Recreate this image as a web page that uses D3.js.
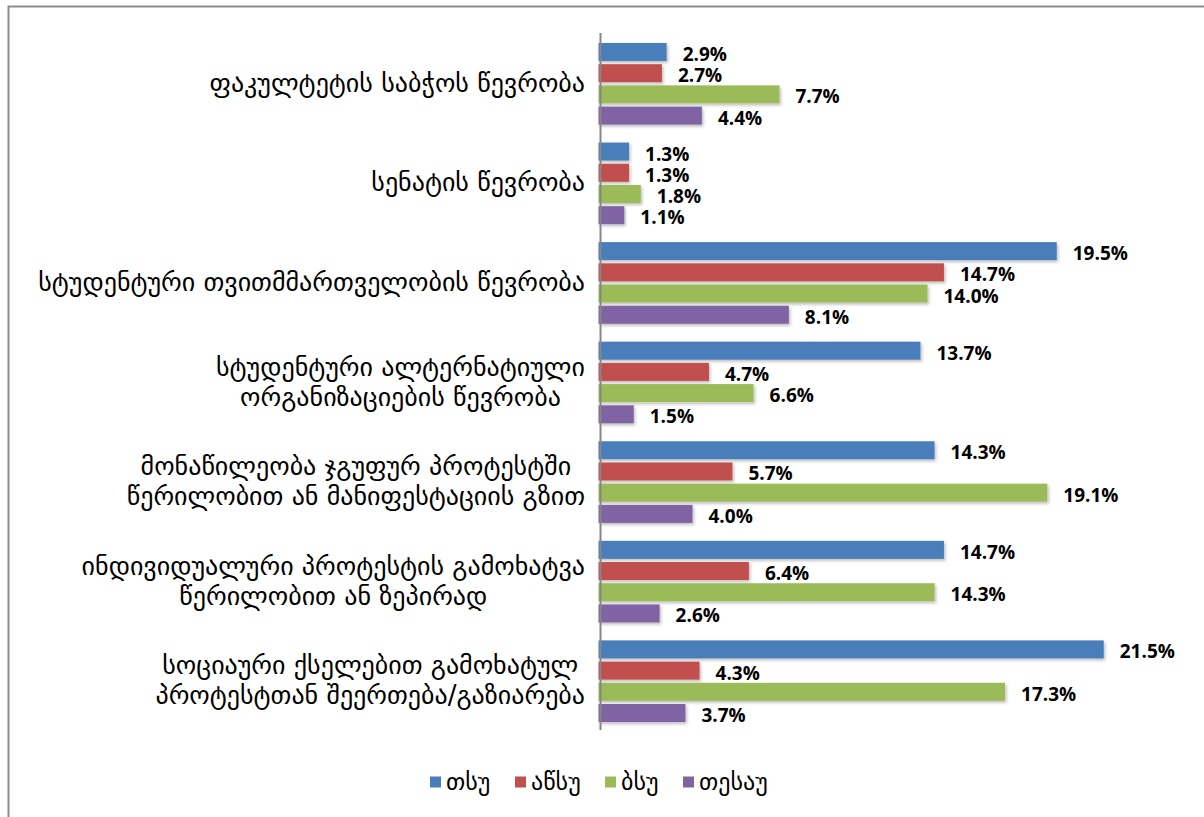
<!DOCTYPE html>
<html>
<head>
<meta charset="utf-8">
<script src="https://cdn.jsdelivr.net/npm/d3@7"></script>
<style>
  body { margin: 0; background: #fff; }
  svg { display: block; }
  .cat { font-family: "DejaVu Sans", sans-serif; font-size: 26px; fill: #000; }
  .val { font-family: "Open Sans", sans-serif; font-weight: bold; font-size: 19px; fill: #000; }
  .leg { font-family: "DejaVu Sans", sans-serif; font-size: 24px; fill: #000; }
</style>
</head>
<body>
<svg width="1204" height="817"></svg>
<script>
// categories (top to bottom), each as lines of text
var categories = [
  ["ფაკულტეტის საბჭოს წევრობა"],
  ["სენატის წევრობა"],
  ["სტუდენტური თვითმმართველობის წევრობა"],
  ["სტუდენტური ალტერნატიული", "ორგანიზაციების წევრობა"],
  ["მონაწილეობა ჯგუფურ პროტესტში", "წერილობით ან მანიფესტაციის გზით"],
  ["ინდივიდუალური პროტესტის გამოხატვა", "წერილობით ან ზეპირად"],
  ["სოციაური ქსელებით გამოხატულ", "პროტესტთან შეერთება/გაზიარება"]
];
var seriesNames = ["თსუ", "აწსუ", "ბსუ", "თესაუ"];
var tsu   = [2.9, 1.3, 19.5, 13.7, 14.3, 14.7, 21.5];
var atsu  = [2.7, 1.3, 14.7, 4.7, 5.7, 6.4, 4.3];
var bsu   = [7.7, 1.8, 14.0, 6.6, 19.1, 14.3, 17.3];
var tesau = [4.4, 1.1, 8.1, 1.5, 4.0, 2.6, 3.7];
var colors = ["#4A7EBB", "#C0504D", "#9BBB59", "#8064A2"];

var seriesValues = [tsu, atsu, bsu, tesau];

var svg = d3.select("svg");

var defs = svg.append("defs");
var f = defs.append("filter").attr("id", "shadow")
    .attr("x", "-5%").attr("y", "-30%").attr("width", "115%").attr("height", "180%");
f.append("feDropShadow").attr("dx", 1.5).attr("dy", 2).attr("stdDeviation", 1.5)
    .attr("flood-color", "#000").attr("flood-opacity", 0.25);

// outer frame (left and top edges only visible)
svg.append("path")
    .attr("d", "M8.5,817V6.5H1204")
    .attr("fill", "none").attr("stroke", "#8c8c8c").attr("stroke-width", 2);

var catIdx = d3.range(categories.length);

var y0 = d3.scaleBand()
    .domain(catIdx)
    .range([33, 730]);

var y1 = d3.scaleBand()
    .domain(d3.range(seriesNames.length))
    .range([y0.bandwidth() * 0.1, y0.bandwidth() * 0.92])
    .paddingInner(0.15);

var x = d3.scaleLinear()
    .domain([0, 22])
    .range([598.5, 598.5 + 23.5 * 22]);

var groups = svg.selectAll(".grp")
  .data(catIdx)
  .enter().append("g")
    .attr("class", "grp")
    .attr("transform", function(i) { return "translate(0," + y0(i) + ")"; });

groups.selectAll("rect")
  .data(function(i) { return seriesValues.map(function(s, k) { return {k: k, v: s[i]}; }); })
  .enter().append("rect")
    .attr("x", x(0))
    .attr("y", function(d) { return y1(d.k); })
    .attr("width", function(d) { return x(d.v) - x(0); })
    .attr("height", y1.bandwidth())
    .attr("fill", function(d) { return colors[d.k]; })
    .attr("filter", "url(#shadow)");

groups.selectAll("text.val")
  .data(function(i) { return seriesValues.map(function(s, k) { return {k: k, v: s[i]}; }); })
  .enter().append("text")
    .attr("class", "val")
    .attr("x", function(d) { return x(d.v) + 16; })
    .attr("y", function(d) { return y1(d.k) + y1.bandwidth() / 2 + 2; })
    .attr("dominant-baseline", "central")
    .text(function(d) { return d.v.toFixed(1) + "%"; });

// category axis line
svg.append("line")
    .attr("x1", 600.5).attr("x2", 600.5)
    .attr("y1", y0.range()[0]).attr("y2", y0.range()[1])
    .attr("stroke", "#868686").attr("stroke-width", 2);

// category labels: lines centred on each other, block right aligned
var lineH = 30;
catIdx.forEach(function(i) {
  var lines = categories[i];
  var cy = y0(i) + y0.bandwidth() / 2;
  var g = svg.append("g");
  var texts = lines.map(function(t, j) {
    return g.append("text")
      .attr("class", "cat")
      .attr("y", cy + (j - (lines.length - 1) / 2) * lineH)
      .attr("dominant-baseline", "central")
      .attr("text-anchor", "middle")
      .text(t);
  });
  var w = d3.max(texts, function(t) { return t.node().getComputedTextLength(); });
  texts.forEach(function(t) { t.attr("x", 585 - w / 2); });
});

// legend
var legX = [430, 515, 605, 683];
var leg = svg.selectAll(".legitem")
  .data(seriesNames)
  .enter().append("g")
    .attr("class", "legitem")
    .attr("transform", function(d, i) { return "translate(" + legX[i] + ",782)"; });
leg.append("rect")
    .attr("x", 0).attr("y", -5.5).attr("width", 11).attr("height", 11)
    .attr("fill", function(d, i) { return colors[i]; });
leg.append("text")
    .attr("class", "leg")
    .attr("x", 16).attr("y", 0)
    .attr("dominant-baseline", "central")
    .text(function(d) { return d; });
</script>
</body>
</html>
